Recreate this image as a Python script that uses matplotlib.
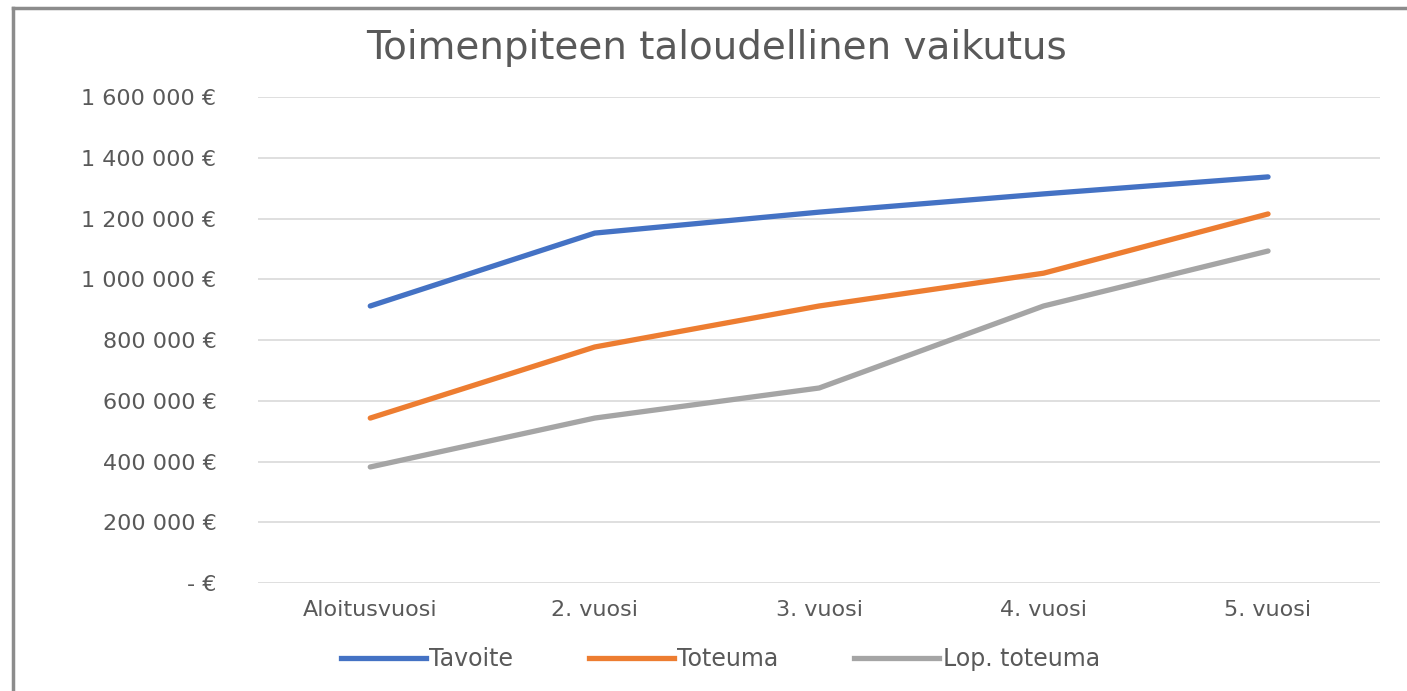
import matplotlib.pyplot as plt
from matplotlib.ticker import FuncFormatter
from matplotlib.lines import Line2D

# Data
categories = ['Aloitusvuosi', '2. vuosi', '3. vuosi', '4. vuosi', '5. vuosi']
tavoite = [912000, 1152000, 1221000, 1281000, 1337000]
toteuma = [543000, 777000, 912000, 1020000, 1215000]
lop_toteuma = [382000, 543000, 642000, 912000, 1093000]
series_names = ['Tavoite', 'Toteuma', 'Lop. toteuma']
colors = ['#4472C4', '#ED7D31', '#A5A5A5']

txt = '#595959'

fig = plt.figure(figsize=(14.07, 6.91), dpi=100)
ax = fig.add_axes([0.1834, 0.1563, 0.7976, 0.7033])

x = range(len(categories))
for vals, name, c in zip([tavoite, toteuma, lop_toteuma], series_names, colors):
    ax.plot(x, vals, color=c, lw=3.8, label=name,
            solid_capstyle='round', solid_joinstyle='round')

ax.set_xlim(-0.5, len(categories) - 0.5)
ax.set_ylim(0, 1600000)
ax.set_yticks(range(0, 1600001, 200000))
ax.set_xticks(list(x))
ax.set_xticklabels(categories)


def euro(v, pos):
    if v == 0:
        return '- €'
    return f'{int(v):,} €'.replace(',', ' ')


ax.yaxis.set_major_formatter(FuncFormatter(euro))
ax.grid(axis='y', color='#D9D9D9', lw=1.2)
ax.set_axisbelow(True)
for s in ax.spines.values():
    s.set_visible(False)
ax.tick_params(axis='y', length=0, pad=30, labelsize=16, labelcolor=txt)
ax.tick_params(axis='x', length=0, pad=12, labelsize=16, labelcolor=txt)

fig.text(0.509, 0.93, 'Toimenpiteen taloudellinen vaikutus', ha='center',
         va='center', fontsize=28, color=txt)

handles = [Line2D([], [], color=c, lw=3.8) for c in colors]
fig.legend(handles, series_names, loc='center', bbox_to_anchor=(0.512, 0.046),
           ncol=3, frameon=False, fontsize=17, labelcolor=txt,
           handlelength=3.6, handletextpad=0.15, columnspacing=3.2)

# spreadsheet frame around the chart
fig.add_artist(Line2D([13 / 1407, 13 / 1407], [0, 1 - 8 / 691],
                      color='#8c8c8c', lw=2.5, transform=fig.transFigure))
fig.add_artist(Line2D([13 / 1407, 1], [1 - 8 / 691, 1 - 8 / 691],
                      color='#8c8c8c', lw=2.5, transform=fig.transFigure))

fig.savefig('out.png', dpi=100, facecolor='white')
